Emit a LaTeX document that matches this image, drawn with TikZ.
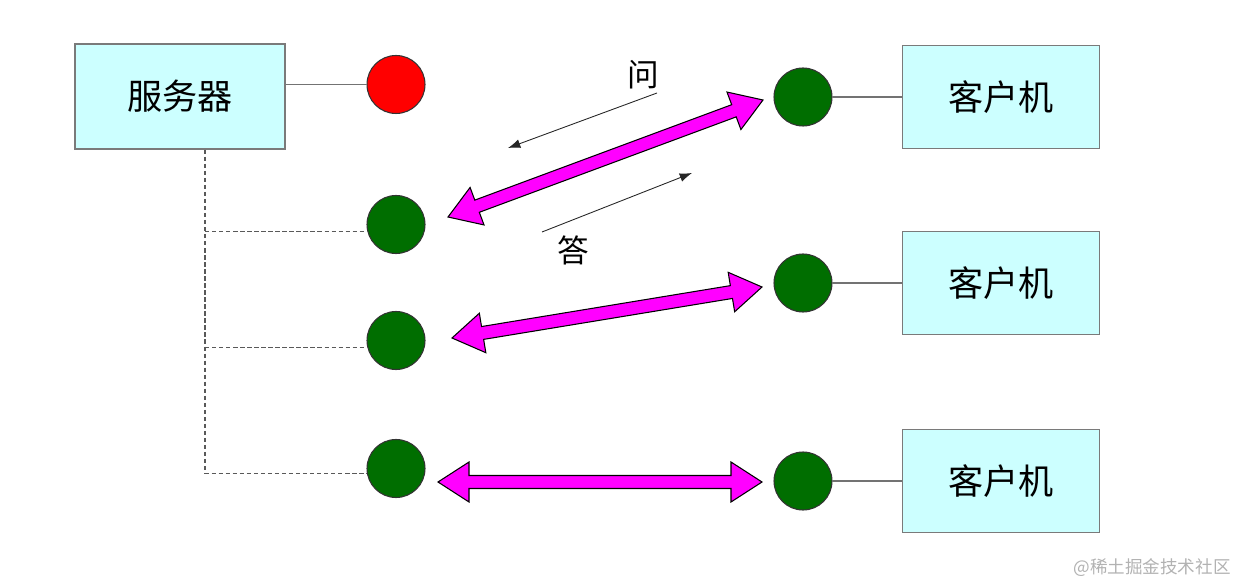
\documentclass[tikz,border=0pt]{standalone}
\usepackage{fontspec}
\newfontfamily\cjk{Noto Sans CJK SC}
\usetikzlibrary{positioning,calc,arrows.meta}

\definecolor{boxcyan}{HTML}{CCFFFF}
\definecolor{boxrim}{HTML}{7A7A7A}
\definecolor{dotgreen}{RGB}{0,110,0}
\definecolor{pipe}{RGB}{255,0,255}

\tikzset{
  hostbox/.style={draw=boxrim, fill=boxcyan, line width=0.8pt, minimum width=3.94cm,
    minimum height=2.06cm, font=\cjk\fontsize{20}{24}\selectfont},
  sock/.style={circle, draw=black!80, fill=#1, line width=0.6pt, minimum size=1.16cm, inner sep=0pt},
  wire/.style={draw=black!55, line width=0.7pt},
  bus/.style={draw=black!65, line width=0.7pt, dash pattern=on 2.5pt off 1.5pt},
  fatpipe/.style={fill=pipe, draw=black, line width=0.6pt, line join=miter},
  msg/.style={draw=black!85, line width=0.5pt, -{Latex[length=7pt,width=5pt]}},
  tag/.style={font=\cjk\fontsize{18}{22}\selectfont}
}

\newcommand\bigpipe[2]{%
  \filldraw[fatpipe] (#1)
    -- ($(#1)!0.62cm!(#2)!0.4cm!90:(#2)$)
    -- ($(#1)!0.62cm!(#2)!0.13cm!90:(#2)$)
    -- ($(#2)!0.62cm!(#1)!0.13cm!-90:(#1)$)
    -- ($(#2)!0.62cm!(#1)!0.4cm!-90:(#1)$)
    -- (#2)
    -- ($(#2)!0.62cm!(#1)!0.4cm!90:(#1)$)
    -- ($(#2)!0.62cm!(#1)!0.13cm!90:(#1)$)
    -- ($(#1)!0.62cm!(#2)!0.13cm!-90:(#2)$)
    -- ($(#1)!0.62cm!(#2)!0.4cm!-90:(#2)$)
    -- cycle;}

\begin{document}
\begin{tikzpicture}
\useasboundingbox (0,0) rectangle (24.8,-11.7);

\node[hostbox, minimum width=4.2cm, minimum height=2.1cm] (server) at (3.6,-1.93) {服务器};
\node[sock=red, on grid, above right=0.24cm and 4.32cm of server] (red) {};
\node[sock=dotgreen, on grid, below=2.8cm of red] (lg1) {};
\node[sock=dotgreen, on grid, below=2.32cm of lg1] (lg2) {};
\node[sock=dotgreen, on grid, below=2.56cm of lg2] (lg3) {};

\node[sock=dotgreen] (rg1) at (16.06,-1.94) {};
\node[sock=dotgreen, on grid, below=3.72cm of rg1] (rg2) {};
\node[sock=dotgreen, on grid, below=3.96cm of rg2] (rg3) {};
\node[hostbox, on grid, right=3.96cm of rg1] (client1) {客户机};
\node[hostbox, on grid, right=3.96cm of rg2] (client2) {客户机};
\node[hostbox, on grid, right=3.96cm of rg3] (client3) {客户机};

\draw[wire] (server.east |- red) -- (red);
\draw[wire] (rg1) -- (client1);
\draw[wire] (rg2) -- (client2);
\draw[wire] (rg3) -- (client3);

\coordinate (tap) at (4.1,-3);
\draw[bus] (tap |- server.south) -- ([yshift=-0.1cm]tap |- lg3) -- ([yshift=-0.1cm]lg3.west);
\draw[bus] ([yshift=-0.14cm]tap |- lg1) -- ([yshift=-0.14cm]lg1.west);
\draw[bus] ([yshift=-0.14cm]tap |- lg2) -- ([yshift=-0.14cm]lg2.west);

\coordinate (p1a) at (8.96,-4.34);
\coordinate (p1b) at (15.26,-2.0);
\coordinate (p2a) at (9.04,-6.76);
\coordinate (p2b) at (15.24,-5.74);
\coordinate (p3a) at (8.76,-9.64);
\coordinate (p3b) at (15.24,-9.64);
\bigpipe{p1a}{p1b}
\bigpipe{p2a}{p2b}
\bigpipe{p3a}{p3b}

\coordinate (ask0) at (13.14,-1.86);
\coordinate (ask1) at (10.16,-2.96);
\coordinate (ans0) at (10.84,-4.64);
\coordinate (ans1) at (13.84,-3.46);
\draw[msg] (ask0) -- (ask1);
\draw[msg] (ans0) -- (ans1);
\node[tag] (ask) at (12.86,-1.5) {问};
\node[tag] (ans) at (11.46,-5.0) {答};

\node[font=\cjk\fontsize{10}{12}\selectfont, text=black!30] (mark) at (23.04,-11.36) {@稀土掘金技术社区};
\end{tikzpicture}
\end{document}
